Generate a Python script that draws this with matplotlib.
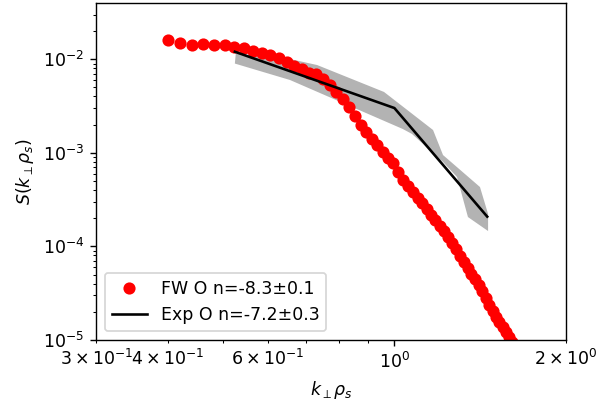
import matplotlib
matplotlib.use("Agg")
import matplotlib.pyplot as plt

# Spectrum from the full-wave simulation (FW O)
fw_k = [0.4010, 0.4215, 0.4420, 0.4625, 0.4830, 0.5035, 0.5240, 0.5445, 0.5650, 0.5855,
        0.6060, 0.6265, 0.6470, 0.6675, 0.6880, 0.7085, 0.7290, 0.7495, 0.7700, 0.7905,
        0.8110, 0.8315, 0.8520, 0.8725, 0.8930, 0.9135, 0.9340, 0.9545, 0.9750, 0.9955,
        1.0160, 1.0365, 1.0570, 1.0775, 1.0980, 1.1185, 1.1390, 1.1595, 1.1800, 1.2005,
        1.2210, 1.2415, 1.2620, 1.2825, 1.3030, 1.3235, 1.3440, 1.3645, 1.3850, 1.4055,
        1.4260, 1.4465, 1.4670, 1.4875, 1.5080, 1.5285, 1.5490, 1.5695, 1.5900, 1.6105,
        1.6310, 1.6515]
fw_S = [0.01603, 0.01479, 0.01418, 0.01443, 0.01418, 0.01418, 0.01360, 0.01304, 0.01235, 0.01165,
        0.01103, 0.01027, 0.00943, 0.00856, 0.00782, 0.00721, 0.00704, 0.00614, 0.00530, 0.00446,
        0.00376, 0.00308, 0.00245, 0.00200, 0.00165, 0.001404, 0.001227, 0.001020, 0.000880, 0.000772,
        0.000624, 0.000512, 0.000442, 0.000381, 0.000331, 0.000289, 0.000251, 0.000219, 0.000191, 0.000167,
        0.0001471, 0.0001266, 0.0001087, 0.0000938, 0.0000799, 0.0000681, 0.0000588, 0.0000511, 0.0000446, 0.0000390,
        0.0000334, 0.0000279, 0.0000235, 0.0000203, 0.0000177, 0.0000155, 0.0000137, 0.0000121, 0.0000107, 0.0000095,
        0.0000084, 0.0000074]

# Experimental spectrum (Exp O) and its uncertainty envelope
exp_k = [0.525, 1.0, 1.455]
exp_S = [0.01202, 0.00301, 0.000208]

env_upper_k = [0.527, 0.656, 0.732, 0.959, 1.169, 1.217, 1.413, 1.460]
env_upper_S = [0.01151, 0.01005, 0.00867, 0.00447, 0.001753, 0.000947, 0.000431, 0.000222]
env_lower_k = [0.525, 0.656, 1.035, 1.074, 1.217, 1.288, 1.346, 1.460]
env_lower_S = [0.00899, 0.00600, 0.001795, 0.001589, 0.000798, 0.000551, 0.000206, 0.000146]

fw_label = "FW O n=-8.3\u00b10.1"
exp_label = "Exp O n=-7.2\u00b10.3"

DPI = 125
fig = plt.figure(figsize=(596 / DPI, 402 / DPI), dpi=DPI)
ax = fig.add_axes([96.3 / 596, 1 - 340 / 402, (566 - 96.3) / 596, (340 - 3.3) / 402])

poly_k = env_upper_k + env_lower_k[::-1]
poly_S = env_upper_S + env_lower_S[::-1]
ax.fill(poly_k, poly_S, color="#b3b3b3", linewidth=0, zorder=1)

ax.plot(fw_k, fw_S, "o", color="red", markersize=6, label=fw_label, zorder=2)
ax.plot(exp_k, exp_S, "-", color="black", linewidth=1.5, label=exp_label, zorder=3)

ax.set_xscale("log")
ax.set_yscale("log")
ax.set_xlim(0.3, 2.0)
ax.set_ylim(1e-5, 0.0396)

ax.set_xlabel(r"$k_\perp\rho_s$")
ax.set_ylabel(r"$S(k_\perp\rho_s)$")
ax.legend(loc="lower left")

fig.savefig("out.png", dpi=DPI)
